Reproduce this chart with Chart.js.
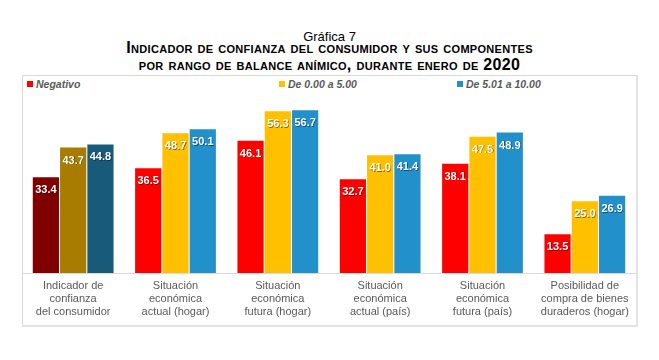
<!DOCTYPE html>
<html>
<head>
<meta charset="utf-8">
<script src="https://cdn.jsdelivr.net/npm/chart.js@4/dist/chart.umd.min.js"></script>
<style>
  body { margin: 0; background: #fff; font-family: 'Liberation Sans', Arial, sans-serif; }
  #page { position: relative; width: 659px; height: 360px; }
  .t0 { position: absolute; left: 0; width: 659px; top: 29px; text-align: center; font-size: 13px; color: #000; }
  .t1 { position: absolute; left: 0; width: 659px; text-align: center; font-weight: bold; font-size: 16.3px; font-variant: small-caps; color: #000; line-height: 17px; letter-spacing: 0.3px; }
  .t1 b { font-size: 16px; font-variant: normal; }
  #box { position: absolute; left: 22px; top: 75px; width: 613px; height: 249px; border: 1px solid #d9d9d9; border-right: 2px solid #e4e4e4; border-bottom: 2px solid #e4e4e4; }
  #wrap { position: absolute; left: 22px; top: 75px; width: 614px; height: 250px; }
  .lg { position: absolute; top: 78px; font-size: 10.5px; font-weight: bold; font-style: italic; color: #595959; white-space: nowrap; }
  .lg i { display: inline-block; width: 6px; height: 6px; margin-right: 3px; vertical-align: 1px; }
</style>
</head>
<body>
<div id="page">
  <div class="t0">Gráfica 7</div>
  <div class="t1" style="top:39px">Indicador de confianza del consumidor y sus componentes</div>
  <div class="t1" style="top:56px">por rango de balance anímico, durante enero de <b>2020</b></div>
  <div id="box"></div>
  <div id="legend"></div>
  <div id="wrap"><canvas id="chart" width="614" height="250"></canvas></div>
</div>
<script>
const categories = [
  ['Indicador de', 'confianza', 'del consumidor'],
  ['Situación', 'económica', 'actual (hogar)'],
  ['Situación', 'económica', 'futura (hogar)'],
  ['Situación', 'económica', 'actual (país)'],
  ['Situación', 'económica', 'futura (país)'],
  ['Posibilidad de', 'compra de bienes', 'duraderos (hogar)'],
];
const seriesNames = ['Negativo', 'De 0.00 a 5.00', 'De 5.01 a 10.00'];
const negativo = [33.4, 36.5, 46.1, 32.7, 38.1, 13.5];
const medio = [43.7, 48.7, 56.3, 41.0, 47.5, 25.0];
const alto = [44.8, 50.1, 56.7, 41.4, 48.9, 26.9];

const COLORS = ['#ff0000', '#ffc000', '#2190cb'];
// first group is drawn darker in the original
const DARK = ['#800000', '#a87c00', '#175a7a'];
const LEGEND_X = [5, 257, 435];

const legendEl = document.getElementById('legend');
seriesNames.forEach((name, i) => {
  const d = document.createElement('div');
  d.className = 'lg';
  d.style.left = (22 + LEGEND_X[i]) + 'px';
  d.innerHTML = `<i style="background:${COLORS[i]}"></i>${name}`;
  legendEl.appendChild(d);
});

const barColors = (i) => categories.map((_, k) => (k === 0 ? DARK[i] : COLORS[i]));

const valueLabels = {
  id: 'valueLabels',
  afterDatasetsDraw(chart) {
    const ctx = chart.ctx;
    ctx.save();
    ctx.font = "bold 11px 'Liberation Sans Narrow', 'Arial Narrow', sans-serif";
    ctx.textAlign = 'center';
    ctx.textBaseline = 'middle';
    chart.data.datasets.forEach((ds, i) => {
      chart.getDatasetMeta(i).data.forEach((bar, k) => {
        const txt = ds.data[k].toFixed(1);
        ctx.fillStyle = 'rgba(0,0,0,0.45)';
        ctx.fillText(txt, bar.x + 0.8, bar.y + 13.8);
        ctx.fillStyle = '#fff';
        ctx.fillText(txt, bar.x, bar.y + 13);
      });
    });
    ctx.restore();
  },
};

new Chart(document.getElementById('chart'), {
  type: 'bar',
  data: {
    labels: categories,
    datasets: [negativo, medio, alto].map((vals, i) => ({
      label: seriesNames[i],
      data: vals,
      backgroundColor: barColors(i),
      categoryPercentage: 0.8,
      barPercentage: 0.96,
    })),
  },
  options: {
    responsive: false,
    animation: false,
    layout: { padding: { top: 20, bottom: 1, left: 0, right: 0 } },
    plugins: { legend: { display: false }, tooltip: { enabled: false } },
    scales: {
      x: {
        grid: { display: false, drawTicks: false },
        border: { color: '#d9d9d9', width: 1 },
        ticks: {
          color: '#595959',
          padding: 6,
          maxRotation: 0,
          autoSkip: false,
          font: { family: "'Liberation Sans', Arial, sans-serif", size: 11, lineHeight: 1.18 },
        },
      },
      y: { display: false, min: 0, max: 62 },
    },
  },
  plugins: [valueLabels],
});
</script>
</body>
</html>
